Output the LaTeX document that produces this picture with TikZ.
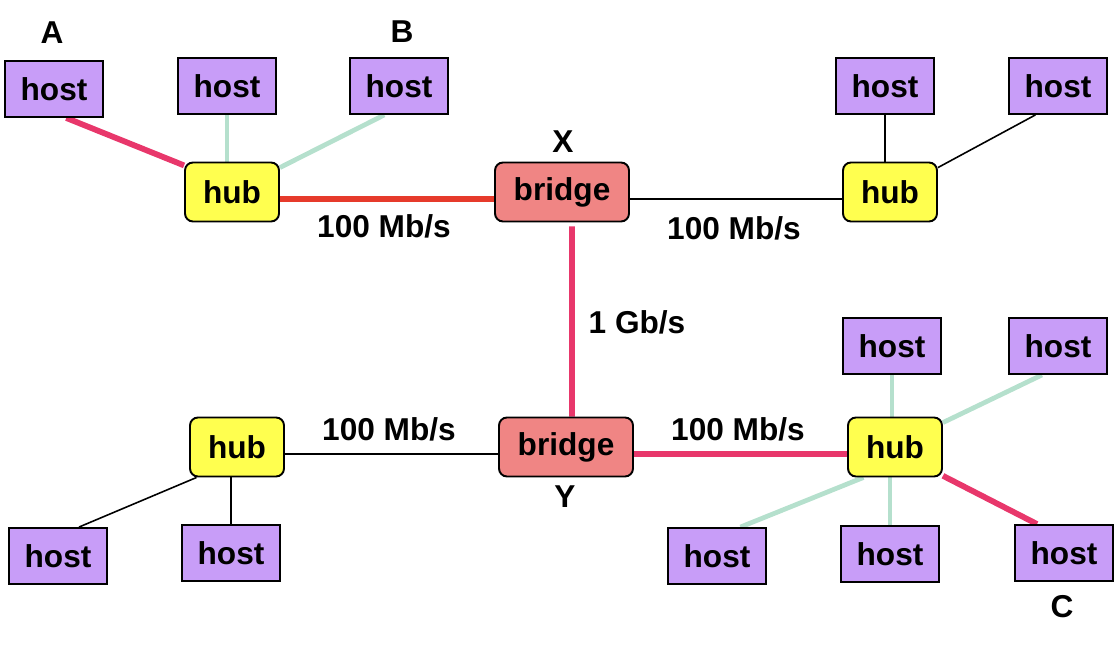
\documentclass[tikz,border=0pt]{standalone}
\usepackage{fontspec}
\setmainfont{Liberation Sans}
\usetikzlibrary{backgrounds}

\definecolor{hostpurple}{HTML}{C89DF8}
\definecolor{hubyellow}{HTML}{FFFF4F}
\definecolor{bridgered}{HTML}{F08584}
\definecolor{pathred}{HTML}{E8376B}
\definecolor{linkred}{HTML}{E63A2B}
\definecolor{idlegreen}{HTML}{B5E0CD}

\begin{document}
\begin{tikzpicture}[x=0.02cm, y=-0.02cm,
    font=\fontsize{18}{21}\selectfont\bfseries,
    host/.style={draw, line width=1.1pt, fill=hostpurple, minimum width=1.96cm, minimum height=1.12cm, inner sep=0pt},
    hub/.style={draw, line width=1.1pt, fill=hubyellow, rounded corners=0.16cm, minimum width=1.88cm, minimum height=1.18cm, inner sep=0pt},
    bridge/.style={hub, fill=bridgered, minimum width=2.68cm},
    busy/.style={line width=3.3pt, draw=pathred},
    idle/.style={line width=2.7pt, draw=idlegreen},
    plain/.style={line width=0.9pt}]
                \useasboundingbox (0,0) rectangle (1116,648);

                % upper segment
                \node[host] (hA) at (54,89) {host};
                \node[host] (h1) at (227,86) {host};
                \node[host] (hB) at (399,86) {host};
                \node[hub] (hubNW) at (232,192) {hub};
                \node[bridge] (brX) at (562,192) {bridge};
                \node[hub] (hubNE) at (890,192) {hub};
                \node[host] (h2) at (885,86) {host};
                \node[host] (h3) at (1058,86) {host};

                % lower segment
                \node[bridge] (brY) at (566,447) {bridge};
                \node[hub] (hubSW) at (237,447) {hub};
                \node[host] (h4) at (58,556) {host};
                \node[host] (h5) at (231,553) {host};
                \node[hub] (hubSE) at (895,447) {hub};
                \node[host] (h6) at (892,346) {host};
                \node[host] (h7) at (1058,346) {host};
                \node[host] (h8) at (717,556) {host};
                \node[host] (h9) at (890,554) {host};
                \node[host] (hC) at (1064,553) {host};

                \node (lA) at (52,33) {A};
                \node (lB) at (402,32) {B};
                \node (lX) at (563,142) {X};
                \node (lY) at (565,497) {Y};
                \node (lC) at (1062,607) {C};
                \node (sNW) at (384,226) {100 Mb/s};
                \node (sNE) at (734,228) {100 Mb/s};
                \node (sXY) at (637,322) {1 Gb/s};
                \node (sSW) at (389,429) {100 Mb/s};
                \node (sSE) at (738,429) {100 Mb/s};

                \begin{scope}[on background layer]
                \draw[busy] (hA.-67) -- (hubNW.151);
                \draw[idle] (h1.south) -- (h1.south |- hubNW.north);
                \draw[idle] (hB.243) -- (hubNW.27);
                \draw[busy, draw=linkred] ([yshift=-0.14cm]hubNW.east) -- ([yshift=-0.14cm]brX.west);
                \draw[plain] ([yshift=-0.14cm]brX.east) -- ([yshift=-0.14cm]hubNE.west);
                \draw[plain] (h2.south) -- (h2.south |- hubNE.north);
                \draw[plain] (h3.232) -- (hubNE.27);
                \draw[busy] ([xshift=0.2cm,yshift=-0.08cm]brX.south) -- ([xshift=0.12cm]brY.north);
                \draw[plain] ([yshift=-0.14cm]hubSW.east) -- ([yshift=-0.14cm]brY.west);
                \draw[busy] ([yshift=-0.14cm]brY.east) -- ([yshift=-0.14cm]hubSE.west);
                \draw[plain] (h4.54) -- (hubSW.217);
                \draw[plain] (h5.north) -- (h5.north |- hubSW.south);
                \draw[idle] (h6.south) -- (h6.south |- hubSE.north);
                \draw[idle] (h7.241) -- (hubSE.27);
                \draw[idle] (h8.51) -- (hubSE.224);
                \draw[idle] (h9.north) -- (h9.north |- hubSE.south);
                \draw[busy] (hubSE.-31) -- (hC.133);
                \end{scope}
            \end{tikzpicture}
\end{document}
